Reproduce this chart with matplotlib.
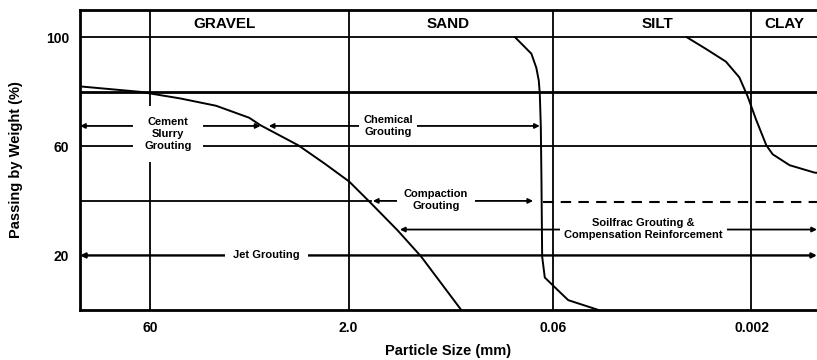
import matplotlib
matplotlib.use("Agg")
import matplotlib.pyplot as plt

plt.rcParams['font.family'] = ['Liberation Sans', 'DejaVu Sans']
plt.rcParams['font.weight'] = 'bold'

# grading curves (particle size in mm, % passing)
coarse_d = [200, 71, 36, 19.4, 11, 9.06, 4.74, 3.02, 1.98, 1.36, 0.86, 0.577, 0.29]
coarse_p = [82, 80, 77.6, 74.9, 70.5, 67.75, 60.4, 53.7, 47.1, 39.1, 29.1, 19.6, 0]
sand_d = [0.115, 0.0871, 0.080, 0.0767, 0.0754, 0.0741, 0.0733, 0.0724, 0.0692, 0.0582, 0.0463, 0.0276]
sand_p = [100, 94, 88.8, 84.1, 79.4, 67.5, 48.4, 19.6, 11.9, 8.3, 3.6, 0]
fine_d = [0.00604, 0.00438, 0.0031, 0.00246, 0.00213, 0.00185, 0.00155, 0.00139, 0.00104, 0.00068, 0.00065]
fine_p = [100, 95.8, 91.1, 85.3, 78.2, 69.9, 60.4, 57.1, 53.1, 50.4, 50.3]

size_ticks = [60, 2.0, 0.06, 0.002]
size_labels = ['60', '2.0', '0.06', '0.002']
pass_ticks = [100, 60, 20]
soil_names = ['GRAVEL', 'SAND', 'SILT', 'CLAY']
soil_pos = [16.9, 0.365, 0.0101, 0.00113]

xmax, xmin = 200, 0.00065

fig = plt.figure(figsize=(8.17, 3.6), dpi=100)
ax = fig.add_axes([0.098, 0.139, 0.902, 0.833])
ax.set_xscale('log')
ax.set_xlim(xmax, xmin)
ax.set_ylim(0, 110)

# grid
for v in size_ticks:
    ax.axvline(v, color='black', lw=1.3, zorder=1)
ax.axhline(100, color='black', lw=1.3, zorder=1)
ax.axhline(80, color='black', lw=2.0, zorder=1)
ax.axhline(60, color='black', lw=1.3, zorder=1)
ax.plot([xmax, 1.36], [40, 40], color='black', lw=1.3, zorder=1)
ax.plot([0.0711, xmin], [39.5, 39.5], color='black', lw=1.5, ls=(0, (5, 3.5)), zorder=1)

# curves
for d, p in [(coarse_d, coarse_p), (sand_d, sand_p), (fine_d, fine_p)]:
    ax.plot(d, p, color='black', lw=1.4, zorder=2, solid_joinstyle='round')

def arrow(x0, x1, y, style='<|-|>', lw=1.3):
    ax.annotate('', xy=(x1, y), xytext=(x0, y),
                arrowprops=dict(arrowstyle=style, color='black', lw=lw,
                                mutation_scale=7, shrinkA=0, shrinkB=0),
                zorder=3)

def label(x, y, s, pad=3):
    ax.text(x, y, s, ha='center', va='center', fontsize=8, linespacing=1.25,
            zorder=4, bbox=dict(facecolor='white', edgecolor='none', pad=pad))

arrow(xmax, 9.06, 67.5)
label(44.2, 64.6, 'Cement\nSlurry\nGrouting', pad=8)

arrow(7.87, 0.0754, 67.5)
label(1.02, 67.5, 'Chemical\nGrouting', pad=3)

arrow(1.32, 0.0845, 40)
label(0.448, 40.4, 'Compaction\nGrouting', pad=5)

arrow(0.83, xmin, 29.5)
label(0.0127, 29.6, 'Soilfrac Grouting &\nCompensation Reinforcement', pad=3)

arrow(xmax, xmin, 20, lw=1.7)
label(8.15, 20, 'Jet Grouting', pad=6)

for name, pos in zip(soil_names, soil_pos):
    ax.text(pos, 105, name, ha='center', va='center', fontsize=11, fontweight='bold')

ax.set_xticks(size_ticks)
ax.set_xticklabels(size_labels)
ax.xaxis.set_minor_locator(matplotlib.ticker.NullLocator())
ax.set_yticks(pass_ticks)
ax.tick_params(length=0, labelsize=10, pad=8)
for t in ax.get_xticklabels() + ax.get_yticklabels():
    t.set_fontweight('bold')

ax.set_xlabel('Particle Size (mm)', fontsize=10.5, fontweight='bold')
ax.xaxis.set_label_coords(0.5, -0.115)
ax.set_ylabel('Passing by Weight (%)', fontsize=10.5, fontweight='bold')
ax.yaxis.set_label_coords(-0.078, 0.5)

for s in ['left', 'bottom', 'top']:
    ax.spines[s].set_linewidth(2.0)
ax.spines['right'].set_visible(False)

fig.savefig('out.png', dpi=100)
